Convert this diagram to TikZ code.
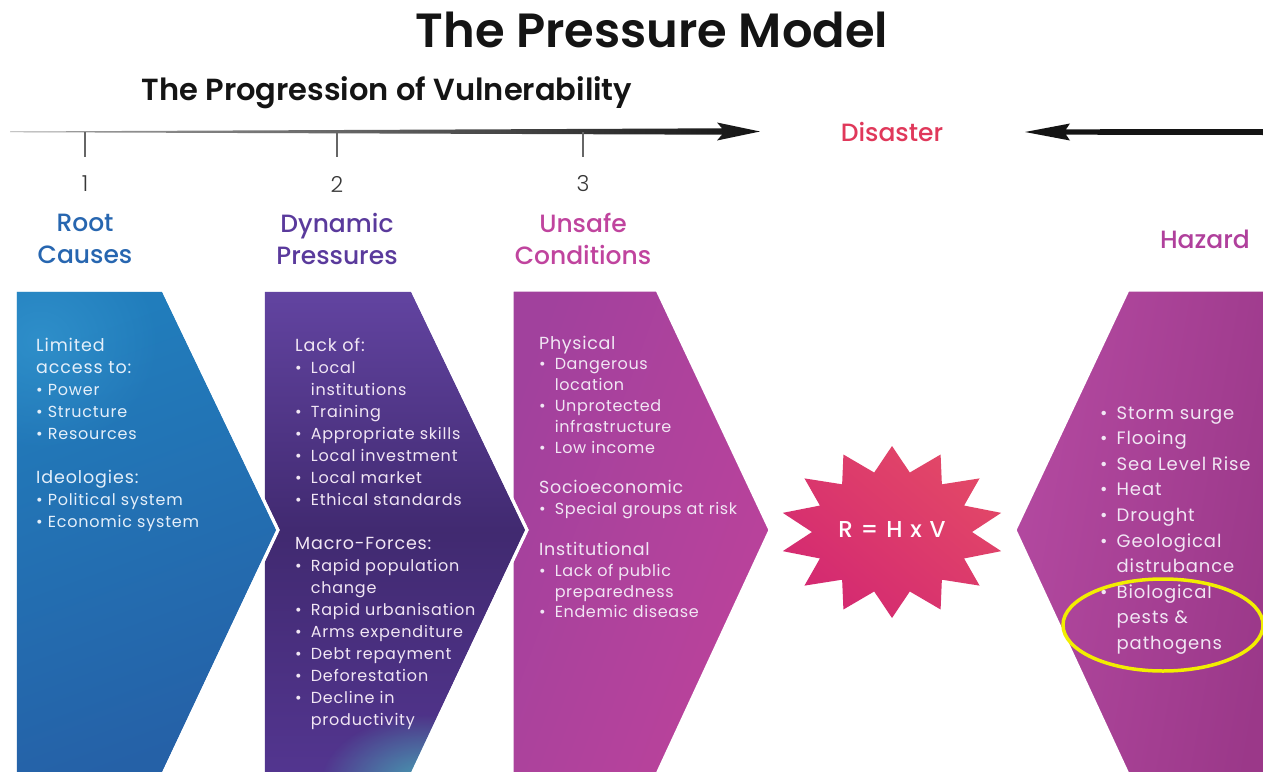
\documentclass[tikz,border=0pt]{standalone}
\usepackage{fontspec}
\setmainfont{Poppins}
\newfontfamily\semib{Poppins SemiBold}
\newfontfamily\medf{Poppins Medium}
\newfontfamily\lightf{Poppins Light}
\usetikzlibrary{fadings}

\definecolor{inkc}{HTML}{141414}
\definecolor{rootc}{HTML}{2766B0}
\definecolor{dync}{HTML}{5A3A9C}
\definecolor{unsafec}{HTML}{C0449E}
\definecolor{hazc}{HTML}{B0409C}
\definecolor{disc}{HTML}{E0385A}
\definecolor{bodyc}{HTML}{F1E6F4}
\definecolor{bluebody}{HTML}{E4EFFA}
\definecolor{ringc}{HTML}{F2EE00}

\newcommand\bl{\textbullet}
\newcommand\hd[1]{\multicolumn{2}{@{}l@{}}{\fontsize{17.5}{22}\selectfont #1}}

\tikzfading[name=softglow, inner color=transparent!0, outer color=transparent!100]

\begin{document}
\begin{tikzpicture}[x=1pt,y=-1pt,
  panel/.style={draw=white, line width=3pt, line join=miter},
  steplabel/.style={font=\fontsize{25}{32}\selectfont\medf, align=center},
  stepnum/.style={font=\fontsize{22}{26}\selectfont\lightf, text=inkc!85},
  tick/.style={draw=black!60, line width=1.2pt},
  listtext/.style={anchor=base west, inner sep=0pt, text=bodyc},
  glow/.style={path fading=softglow}
]
\useasboundingbox (0,0) rectangle (1263,771);
\fill[white] (0,0) rectangle (1263,771);

% ---------- headings ----------
\node[font=\fontsize{48}{50}\selectfont\semib, text=inkc] (title) at (652,30) {The Pressure Model};
\node[font=\fontsize{30.5}{32}\selectfont\semib, text=inkc] (subtitle) at (387,93) {The Progression of Vulnerability};

% ---------- timeline arrows ----------
\coordinate (lineL) at (10,131.5);
\coordinate (tipR) at (760,131.5);
\coordinate (lineR) at (1263,132);
\coordinate (tipL) at (1025,132);
\shade[left color=black!35, right color=inkc]
  (lineL) -- (722,128.3) -- (717,122.5) -- (tipR) -- (717,140.5) -- (722,134.7) -- (10,132.2) -- cycle;
\fill[inkc]
  (lineR) ++(0,-3) -- (1066,129.3) -- (1070,123.5) -- (tipL) -- (1070,140.5) -- (1066,134.7) -- (1263,135) -- cycle;
\node[font=\fontsize{25}{28}\selectfont\medf, text=disc] (disaster) at (892,132) {Disaster};

% ticks and numbers
\foreach \n/\x in {1/85,2/337,3/583}{
  \coordinate (tk\n) at (\x,132);
  \draw[tick] (tk\n) -- ++(0,25);
  \node[stepnum] (num\n) at (\x,184) {\n};
}

% step labels
\node[steplabel, text=rootc] (rootlbl) at (85,239) {Root\\Causes};
\node[steplabel, text=dync] (dynlbl) at (337,239) {Dynamic\\Pressures};
\node[steplabel, text=unsafec] (unsafelbl) at (583,239) {Unsafe\\Conditions};
\node[steplabel, text=hazc] (hazlbl) at (1205,239) {Hazard};

% ---------- chevron panels (drawn right to left so tips overlap) ----------
% hazard panel
\shadedraw[panel, shading=axis, left color=hazc!95!white, right color=hazc!88!black, shading angle=80]
  (1128,290) -- (1266,290) -- (1266,774) -- (1128,774) -- (1015,530) -- cycle;

% unsafe conditions panel
\shadedraw[panel, shading=axis, left color=unsafec!70!dync, right color=unsafec!98!black, shading angle=70]
  (512,290) -- (657,290) -- (770,530) -- (657,774) -- (512,774) -- cycle;

% dynamic pressures panel
\shadedraw[panel, shading=axis, top color=dync!95!white, bottom color=dync!92!black, middle color=dync!72!black]
  (263,290) -- (412,290) -- (527,530) -- (412,774) -- (263,774) -- cycle;
\begin{scope}
  \clip (263,290) -- (412,290) -- (527,530) -- (412,774) -- (263,774) -- cycle;
  \fill[color={rgb,255:red,70;green,170;blue,182}, opacity=0.95, glow] (425,785) ellipse (105 and 70);
\end{scope}
\draw[panel] (263,290) -- (412,290) -- (527,530) -- (412,774) -- (263,774) -- cycle;

% root causes panel
\shadedraw[panel, shading=axis, top color=rootc!85!cyan, bottom color=rootc!95!black, shading angle=20]
  (15,290) -- (163,290) -- (278,530) -- (163,774) -- (15,774) -- cycle;
\begin{scope}
  \clip (15,290) -- (163,290) -- (278,530) -- (163,774) -- (15,774) -- cycle;
  \fill[color={rgb,255:red,60;green,160;blue,215}, opacity=0.5, glow] (40,340) ellipse (120 and 110);
\end{scope}
\draw[panel] (15,290) -- (163,290) -- (278,530) -- (163,774) -- (15,774) -- cycle;

% ---------- starburst ----------
\shade[shading=axis, top color=disc!92!white, bottom color=disc!80!magenta!92!black, shading angle=-40]
  plot[samples at={0,...,27}, variable=\k]
  ({892+(mod(\k,2)==0?112:80)*cos(90+\k*360/28)},{532-(mod(\k,2)==0?86:61)*sin(90+\k*360/28)}) -- cycle;
\node[font=\fontsize{23}{26}\selectfont\medf\addfontfeature{LetterSpace=8}, text=white] (risk) at (892,530) {R = H x V};

% ---------- panel texts ----------
\node[listtext, text=bluebody, font=\fontsize{16}{22}\selectfont\addfontfeature{LetterSpace=5}] (roottxt) at (36,351) {%
\begin{tabular}[t]{@{}l@{\hspace{5pt}}l@{}}
\hd{Limited}\\
\hd{access to:}\\
\bl & Power\\
\bl & Structure\\
\bl & Resources\\[22pt]
\hd{Ideologies:}\\
\bl & Political system\\
\bl & Economic system
\end{tabular}};

\node[listtext, font=\fontsize{16}{22}\selectfont\addfontfeature{LetterSpace=5}] (dyntxt) at (295,351) {%
\begin{tabular}[t]{@{}l@{\hspace{9pt}}l@{}}
\hd{Lack of:}\\
\bl & Local\\
 & institutions\\
\bl & Training\\
\bl & Appropriate skills\\
\bl & Local investment\\
\bl & Local market\\
\bl & Ethical standards\\[22pt]
\hd{Macro-Forces:}\\
\bl & Rapid population\\
 & change\\
\bl & Rapid urbanisation\\
\bl & Arms expenditure\\
\bl & Debt repayment\\
\bl & Deforestation\\
\bl & Decline in\\
 & productivity
\end{tabular}};

\node[listtext, font=\fontsize{16}{20.8}\selectfont\addfontfeature{LetterSpace=4}] (unsafetxt) at (539,349) {%
\begin{tabular}[t]{@{}l@{\hspace{9pt}}l@{}}
\hd{Physical}\\
\bl & Dangerous\\
 & location\\
\bl & Unprotected\\
 & infrastructure\\
\bl & Low income\\[20pt]
\hd{Socioeconomic}\\
\bl & Special groups at risk\\[20pt]
\hd{Institutional}\\
\bl & Lack of public\\
 & preparedness\\
\bl & Endemic disease
\end{tabular}};

\node[listtext, font=\fontsize{18}{25.6}\selectfont\addfontfeature{LetterSpace=5}] (haztxt) at (1100,419) {%
\begin{tabular}[t]{@{}l@{\hspace{9pt}}l@{}}
\bl & Storm surge\\
\bl & Flooing\\
\bl & Sea Level Rise\\
\bl & Heat\\
\bl & Drought\\
\bl & Geological\\
 & distrubance\\
\bl & Biological\\
 & pests \&\\
 & pathogens
\end{tabular}};

% ---------- highlight ring ----------
\draw[ringc, line width=3.5pt] (1163,625) ellipse (100 and 46);
\end{tikzpicture}
\end{document}
